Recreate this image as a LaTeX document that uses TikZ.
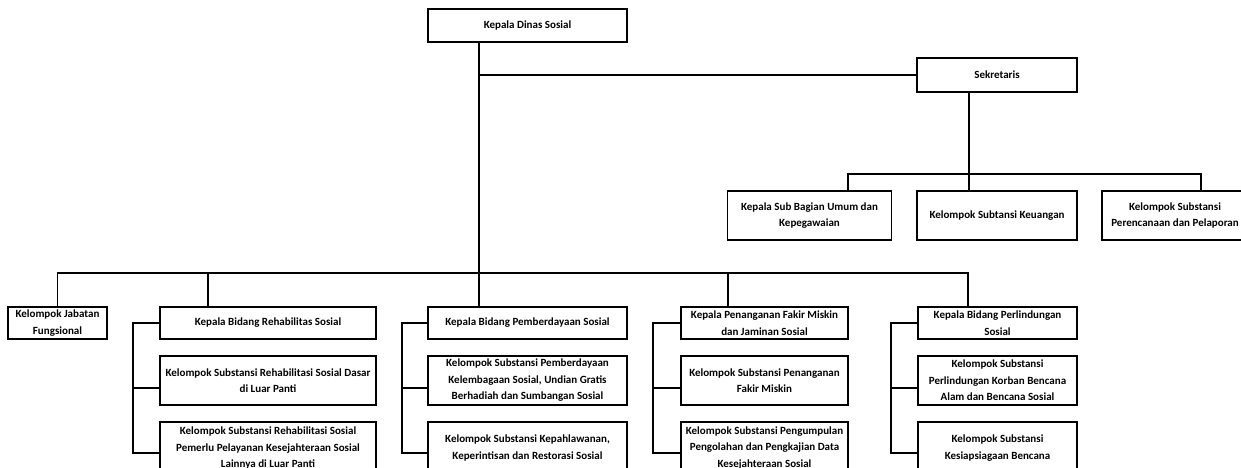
\documentclass[tikz,border=0pt]{standalone}
\usepackage{fontspec}
\setmainfont{Carlito}
\usetikzlibrary{positioning}

\begin{document}
\begin{tikzpicture}[x=1pt, y=-1pt,
    every node/.style={font=\fontsize{11}{16.5}\selectfont\bfseries},
    unit/.style={draw, line width=1.5pt, align=center, inner xsep=2pt, inner ysep=1pt},
    link/.style={line width=1.2pt}]
    \useasboundingbox (0,0) rectangle (1241,468);

    % top level
    \node[unit, minimum width=199pt, minimum height=33pt] (kadis) at (527.5,25.5) {Kepala Dinas Sosial};
    \node[unit, minimum width=160pt, minimum height=34pt] (sekre) at (997,75) {Sekretaris};

    \node[unit, minimum width=164pt, minimum height=49pt] (umum) at (809.5,215.5) {Kepala Sub Bagian Umum dan\\Kepegawaian};
    \node[unit, minimum width=160pt, minimum height=49pt] (keu) at (997,215.5) {Kelompok Subtansi Keuangan};
    \node[unit, minimum width=146pt, minimum height=49pt] (renc) at (1175,215.5) {Kelompok Substansi\\Perencanaan dan Pelaporan};

    % bidang
    \node[unit, minimum width=99pt, minimum height=32pt] (fung) at (57.5,323) {Kelompok Jabatan\\Fungsional};

    \node[unit, minimum width=216pt, minimum height=32pt] (reh1) at (268,323) {Kepala Bidang Rehabilitas Sosial};
    \node[unit, minimum width=216pt, minimum height=49pt] (reh2) at (268,380.5) {Kelompok Substansi Rehabilitasi Sosial Dasar\\di Luar Panti};
    \node[unit, minimum width=216pt, minimum height=52pt] (reh3) at (268,448) {Kelompok Substansi Rehabilitasi Sosial\\Pemerlu Pelayanan Kesejahteraan Sosial\\Lainnya di Luar Panti};

    \node[unit, minimum width=199pt, minimum height=32pt] (pem1) at (527.5,323) {Kepala Bidang Pemberdayaan Sosial};
    \node[unit, minimum width=199pt, minimum height=49pt] (pem2) at (527.5,380.5) {Kelompok Substansi Pemberdayaan\\Kelembagaan Sosial, Undian Gratis\\Berhadiah dan Sumbangan Sosial};
    \node[unit, minimum width=199pt, minimum height=52pt] (pem3) at (527.5,448) {Kelompok Substansi Kepahlawanan,\\Keperintisan dan Restorasi Sosial};

    \node[unit, minimum width=167pt, minimum height=32pt] (fak1) at (764.5,323) {Kepala Penanganan Fakir Miskin\\dan Jaminan Sosial};
    \node[unit, minimum width=167pt, minimum height=49pt] (fak2) at (764.5,380.5) {Kelompok Substansi Penanganan\\Fakir Miskin};
    \node[unit, minimum width=167pt, minimum height=52pt] (fak3) at (764.5,448) {Kelompok Substansi Pengumpulan\\Pengolahan dan Pengkajian Data\\Kesejahteraan Sosial};

    \node[unit, minimum width=159pt, minimum height=32pt] (lin1) at (997.5,323) {Kepala Bidang Perlindungan\\Sosial};
    \node[unit, minimum width=159pt, minimum height=49pt] (lin2) at (997.5,380.5) {Kelompok Substansi\\Perlindungan Korban Bencana\\Alam dan Bencana Sosial};
    \node[unit, minimum width=159pt, minimum height=52pt] (lin3) at (997.5,448) {Kelompok Substansi\\Kesiapsiagaan Bencana};

    % trunk and sekretaris branch
    \coordinate (trunk) at (479,273);
    \draw[link] (kadis.south -| trunk) -- (trunk);
    \draw[link] (trunk |- sekre.west) -- (sekre.west);

    \coordinate (sekdrop) at (969,174);
    \coordinate (umdrop) at (848,174);
    \coordinate (rcdrop) at (1201,174);
    \draw[link] (sekdrop |- sekre.south) -- (sekdrop |- keu.north);
    \draw[link] (umdrop |- umum.north) -- (umdrop) -- (rcdrop) -- (rcdrop |- renc.north);

    % bus to the bidang
    \coordinate (rehdrop) at (208,273);
    \coordinate (fakdrop) at (728,273);
    \coordinate (lindrop) at (968,273);
    \draw[link] (fung.north) |- (lindrop) -- (lindrop |- lin1.north);
    \draw[link] (rehdrop) -- (rehdrop |- reh1.north);
    \draw[link] (trunk) -- (trunk |- pem1.north);
    \draw[link] (fakdrop) -- (fakdrop |- fak1.north);

    % brackets
    \coordinate (rehx) at (133,0);
    \coordinate (pemx) at (402,0);
    \coordinate (fakx) at (653,0);
    \coordinate (linx) at (891,0);
    \draw[link] (reh1.west) -| ([yshift=-5pt]rehx |- reh3.west) -- ([yshift=-5pt]reh3.west);
    \draw[link] ([yshift=-7.5pt]rehx |- reh2.west) -- ([yshift=-7.5pt]reh2.west);
    \draw[link] (pem1.west) -| ([yshift=-5pt]pemx |- pem3.west) -- ([yshift=-5pt]pem3.west);
    \draw[link] ([yshift=-7.5pt]pemx |- pem2.west) -- ([yshift=-7.5pt]pem2.west);
    \draw[link] (fak1.west) -| ([yshift=-5pt]fakx |- fak3.west) -- ([yshift=-5pt]fak3.west);
    \draw[link] ([yshift=-7.5pt]fakx |- fak2.west) -- ([yshift=-7.5pt]fak2.west);
    \draw[link] (lin1.west) -| ([yshift=-5pt]linx |- lin3.west) -- ([yshift=-5pt]lin3.west);
    \draw[link] ([yshift=-7.5pt]linx |- lin2.west) -- ([yshift=-7.5pt]lin2.west);
\end{tikzpicture}
\end{document}
